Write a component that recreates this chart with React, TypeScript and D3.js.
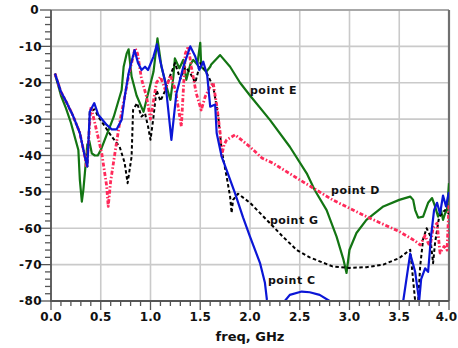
import React from "react";
import * as d3 from "d3";

const xTickValues = [0, 0.5, 1, 1.5, 2, 2.5, 3, 3.5, 4];
const xTickLabels = ["0.0", "0.5", "1.0", "1.5", "2.0", "2.5", "3.0", "3.5", "4.0"];
const yTickValues = [0, -10, -20, -30, -40, -50, -60, -70, -80];
const yTickLabels = ["0", "-10", "-20", "-30", "-40", "-50", "-60", "-70", "-80"];
const xAxisTitle = "freq, GHz";

// point C (blue solid)
const freqC = [0.04,0.10,0.16,0.22,0.29,0.34,0.365,0.39,0.435,0.475,0.56,0.61,0.66,0.71,0.74,0.78,0.84,0.875,0.91,0.945,0.975,1.03,1.065,1.095,1.15,1.21,1.26,1.33,1.40,1.45,1.49,1.53,1.57,1.6,1.65,1.665,1.715,1.765,1.85,1.93,2.0,2.1,2.15,2.17,2.2,2.3,2.35,2.4,2.52,2.6,2.7,2.8,2.9,3.5,3.54,3.61,3.66,3.7,3.72,3.76,3.79,3.82,3.85,3.88,3.91,3.94,3.97,4.0];
const magC = [-17.5,-22.5,-25.6,-29,-33.8,-40.3,-43,-28,-25.6,-28.8,-31.6,-32.8,-32.8,-30.2,-24,-17.4,-11,-14.6,-16.5,-15.6,-16.5,-12.8,-9.4,-13.7,-20,-35.7,-23,-15.6,-10,-12.8,-16.5,-14.2,-18,-26.6,-26,-33.8,-40.3,-44,-50.4,-57,-62.3,-69.5,-75,-79.7,-85,-85,-80,-78.3,-77.4,-77.6,-78.3,-80,-85,-85,-80,-67,-72,-80,-74,-71,-72,-62,-55,-53,-56,-51,-54,-50];

// point G (black dashed)
const freqG = [0.04,0.10,0.16,0.22,0.29,0.34,0.365,0.39,0.435,0.475,0.61,0.69,0.74,0.77,0.81,0.825,0.865,0.91,0.945,0.975,1.0,1.03,1.06,1.1,1.15,1.2,1.246,1.3,1.35,1.4,1.45,1.5,1.55,1.63,1.68,1.715,1.765,1.8,1.815,1.83,1.88,2.0,2.2,2.33,2.47,2.6,2.83,3.0,3.17,3.34,3.5,3.61,3.66,3.68,3.71,3.74,3.775,3.81,3.84,3.86,3.9,3.93,3.96,4.0];
const magG = [-17.5,-22.5,-25.6,-29,-33.8,-40.3,-43,-28,-27.3,-29.3,-34.8,-37.6,-42,-47.6,-40.3,-27.5,-25.6,-29.3,-28.4,-32,-35.7,-29.4,-22,-25,-22,-17.9,-14.6,-19,-15.6,-17.4,-20,-14.6,-16.5,-21,-29,-38.5,-45.8,-51.3,-55.8,-52.2,-50.5,-53,-58.6,-62.3,-66,-68,-70.5,-70.9,-70.7,-70,-68.2,-65.9,-80,-85,-70.5,-63,-60,-62,-69.6,-64,-57,-55.9,-55,-56];

// point D (red dash-dot)
const freqD = [0.04,0.10,0.16,0.22,0.29,0.34,0.36,0.40,0.44,0.51,0.56,0.575,0.6,0.65,0.69,0.74,0.78,0.845,0.87,0.91,0.96,1.0,1.06,1.1,1.15,1.2,1.25,1.31,1.35,1.38,1.41,1.46,1.51,1.55,1.6,1.63,1.67,1.70,1.715,1.74,1.765,1.85,2.0,2.12,2.23,2.5,2.83,3.17,3.5,3.6,3.66,3.71,3.76,3.79,3.81,3.84,3.88,3.91,3.95,3.98,3.99,4.0];
const magD = [-17.5,-22.5,-25.6,-29,-33.8,-40.3,-43.4,-26.6,-31,-39.4,-48.5,-54,-47,-38,-31,-24,-18,-10.5,-12,-19,-23.8,-30,-20,-18.4,-22,-18,-22,-32,-12,-10,-15.6,-22.9,-27.5,-23.8,-21,-20,-27,-33.8,-40,-37,-35.7,-34.3,-37.6,-40.7,-42.1,-46.7,-52.2,-56.8,-60.9,-62.5,-63.5,-64.6,-62,-64,-65,-60,-58.6,-66.8,-65,-66,-60,-53];

// point E (green solid)
const freqE = [0.04,0.1,0.15,0.2,0.25,0.275,0.29,0.31,0.325,0.34,0.365,0.385,0.41,0.44,0.47,0.5,0.63,0.71,0.73,0.76,0.78,0.81,0.86,0.93,0.96,1.03,1.07,1.11,1.16,1.2,1.23,1.245,1.29,1.33,1.36,1.4,1.43,1.47,1.5,1.51,1.56,1.6,1.61,1.7,1.8,1.9,2.0,2.2,2.4,2.57,2.65,2.77,2.87,2.94,2.97,3.0,3.07,3.17,3.34,3.5,3.61,3.64,3.66,3.69,3.74,3.79,3.83,3.86,3.89,3.92,3.94,3.96,3.98,4.0];
const magE = [-17.5,-23.5,-27,-31,-36,-38.5,-46.7,-52.7,-49.5,-45,-37,-36,-39.4,-40,-40,-38.5,-29.4,-22,-15.6,-12,-10.8,-18.3,-23.5,-28,-24.7,-17,-7.8,-15.6,-21,-24.7,-18.3,-13.3,-16,-13.7,-19.2,-15,-13.7,-15,-9,-15.6,-17,-15.6,-15,-12.4,-15.6,-20,-23.5,-30.2,-37.6,-44.9,-49.5,-55,-62.3,-68.7,-72.3,-65.9,-61.3,-57.7,-54,-52.2,-51.3,-52.2,-55,-57.1,-56.8,-53,-51.7,-54,-56.8,-55,-57.7,-56,-55,-47.6];

const seriesNames = ["point E", "point D", "point G", "point C"];
const labelFreq = [2.0, 2.815, 2.2, 2.18];
const labelMag = [-23.1, -50.5, -58.8, -75.3];

export default function App() {
  const W = 458, H = 348;
  const left = 51, right = 449, top = 10, bottom = 301;
  const x = d3.scaleLinear().domain([0, 4]).range([left, right]);
  const y = d3.scaleLinear().domain([-80, 0]).range([bottom, top]);

  const mk = (fs: number[], ms: number[]) =>
    d3.line<number>().x((_, i) => x(fs[i])).y((_, i) => y(ms[i]))(fs.map((_, i) => i)) || "";

  const series = [
    { d: mk(freqE, magE), stroke: "#137513", width: 2.2, dash: undefined },
    { d: mk(freqD, magD), stroke: "#ff2a5a", width: 2.8, dash: "4,2,1.5,2" },
    { d: mk(freqG, magG), stroke: "#000000", width: 2, dash: "3.5,2.5" },
    { d: mk(freqC, magC), stroke: "#0b16d6", width: 2.2, dash: undefined },
  ];
  const order = [0, 2, 1, 3];

  const minorY = d3.range(0, -81, -2);
  const minorX = d3.range(0, 41).map((v) => v / 10);
  const font = "'DejaVu Sans', Verdana, sans-serif";
  const last = xTickValues.length - 1;

  return (
    <svg width={W} height={H} style={{ position: "absolute", left: 0, top: 0, background: "#fff" }}>
      <defs>
        <clipPath id="plotclip">
          <rect x={left} y={top} width={right - left} height={bottom - top} />
        </clipPath>
      </defs>
      <rect x={0} y={0} width={W} height={H} fill="#fff" />
      {xTickValues.map((v) => (
        <line key={"gx" + v} x1={x(v)} x2={x(v)} y1={top} y2={bottom} stroke="#cacaca" strokeWidth={1.6} />
      ))}
      {yTickValues.map((v) => (
        <line key={"gy" + v} x1={left} x2={right} y1={y(v)} y2={y(v)} stroke="#cacaca" strokeWidth={1.6} />
      ))}
      <line x1={left} x2={right} y1={top} y2={top} stroke="#999" strokeWidth={1.5} />
      <line x1={right} x2={right} y1={top} y2={bottom} stroke="#707070" strokeWidth={2.2} />
      <g clipPath="url(#plotclip)">
        {order.map((i) => (
          <path key={i} d={series[i].d} fill="none" stroke={series[i].stroke}
            strokeWidth={series[i].width} strokeDasharray={series[i].dash}
            strokeLinejoin="round" />
        ))}
      </g>
      {minorY.map((v) => (
        <line key={"ty" + v} x1={v % 10 === 0 ? left - 11 : left - 6} x2={left} y1={y(v)} y2={y(v)} stroke="#555" strokeWidth={1.3} />
      ))}
      {minorX.map((v, i) => (
        <line key={"tx" + i} x1={x(v)} x2={x(v)} y1={bottom} y2={i % 5 === 0 ? bottom + 9 : bottom + 5} stroke="#555" strokeWidth={1.3} />
      ))}
      <line x1={left} x2={left} y1={top} y2={bottom + 1} stroke="#555" strokeWidth={1.8} />
      <line x1={left - 1} x2={right} y1={bottom} y2={bottom} stroke="#555" strokeWidth={1.8} />
      {yTickValues.map((v, i) => (
        <text key={"ly" + v} x={i === 0 ? 39 : 42} y={y(v) + 4.4} textAnchor="end" fontFamily={font} fontWeight="bold" fontSize={12} letterSpacing={0.4} fill="#111">
          {yTickLabels[i]}
        </text>
      ))}
      {xTickValues.map((v, i) => (
        <text key={"lx" + v} x={i === last ? 457 : x(v)} y={320.5} textAnchor={i === last ? "end" : "middle"} fontFamily={font} fontWeight="bold" fontSize={12} fill="#111">
          {xTickLabels[i]}
        </text>
      ))}
      <text x={x(2)} y={341} textAnchor="middle" fontFamily={font} fontWeight="bold" fontSize={13} fill="#111">
        {xAxisTitle}
      </text>
      {seriesNames.map((n, i) => (
        <text key={n} x={x(labelFreq[i])} y={y(labelMag[i])} fontFamily={font} fontWeight="bold" fontSize={11} letterSpacing={0.5} fill="#111">
          {n}
        </text>
      ))}
    </svg>
  );
}
